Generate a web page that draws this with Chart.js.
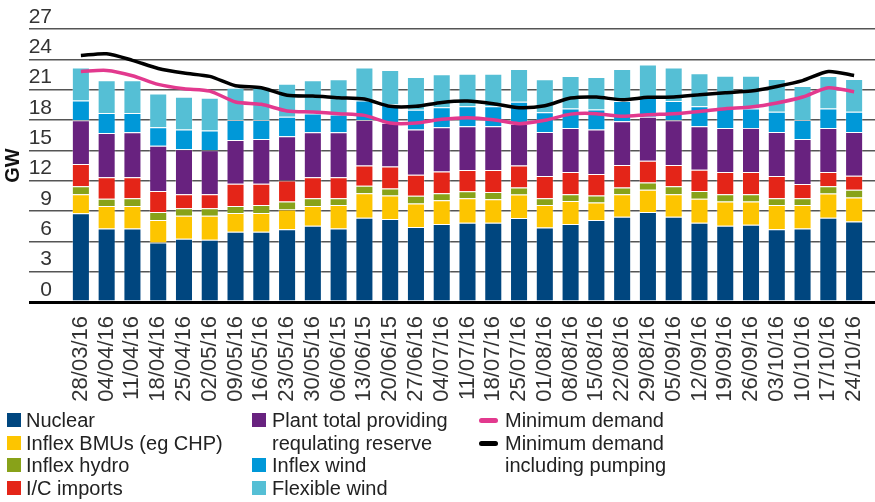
<!DOCTYPE html>
<html>
<head>
<meta charset="utf-8">
<script src="https://cdn.jsdelivr.net/npm/chart.js@4"></script>
<style>
  body { margin: 0; background: #fff; }
  #wrap { position: relative; width: 875px; height: 502px; }
  #legend { position: absolute; left: 0; top: 409px; width: 875px; font-family: "Liberation Sans", Arial, sans-serif; font-size: 20px; color: #222; line-height: 22.7px; }
  .col { position: absolute; top: 0; }
  .row { position: relative; height: 22.7px; white-space: nowrap; }
  .sw { position: absolute; left: 0; top: 4px; width: 14px; height: 14px; }
  .ln { position: absolute; left: 0; top: 9px; width: 19px; height: 5px; border-radius: 3px; }
</style>
</head>
<body>
<div id="wrap">
  <canvas id="myChart" width="875" height="502"></canvas>
  <div id="legend"></div>
</div>
<script>
let canvas = document.getElementById("myChart");

const labels = [
  "28/03/16", "04/04/16", "11/04/16", "18/04/16", "25/04/16", "02/05/16", "09/05/16", "16/05/16",
  "23/05/16", "30/05/16", "06/06/15", "13/06/15", "20/06/15", "27/06/16", "04/07/16", "11/07/16",
  "18/07/16", "25/07/16", "01/08/16", "08/08/16", "15/08/16", "22/08/16", "29/08/16", "05/09/16",
  "12/09/16", "19/09/16", "26/09/16", "03/10/16", "10/10/16", "17/10/16", "24/10/16",
];
const yTicks = [0, 3, 6, 9, 12, 15, 18, 21, 24, 27];

// GW per segment
const nuclear = [8.77, 7.28, 7.28, 5.89, 6.26, 6.16, 6.95, 6.95, 7.19, 7.55, 7.28, 8.34, 8.21, 7.42, 7.72, 7.85,
  7.85, 8.31, 7.38, 7.72, 8.11, 8.44, 8.91, 8.44, 7.85, 7.55, 7.65, 7.19, 7.28, 8.34, 7.95];
const inflexBMU = [1.89, 2.22, 2.22, 2.22, 2.28, 2.38, 1.86, 1.86, 1.95, 1.95, 2.32, 2.42, 2.32, 2.32, 2.35, 2.41,
  2.32, 2.32, 2.22, 2.28, 1.72, 2.22, 2.18, 2.22, 2.35, 2.38, 2.28, 2.41, 2.32, 2.39, 2.38];
const inflexHydro = [0.80, 0.70, 0.76, 0.80, 0.73, 0.73, 0.69, 0.79, 0.79, 0.76, 0.66, 0.73, 0.70, 0.76, 0.69, 0.70,
  0.72, 0.69, 0.66, 0.66, 0.70, 0.66, 0.73, 0.80, 0.79, 0.73, 0.73, 0.66, 0.66, 0.73, 0.76];
const icImports = [2.18, 2.15, 2.09, 2.08, 1.39, 1.39, 2.19, 2.09, 2.09, 2.09, 2.09, 2.02, 2.18, 2.08, 2.15, 2.09,
  2.16, 2.19, 2.19, 2.19, 2.12, 2.22, 2.15, 2.08, 2.09, 2.19, 2.19, 2.19, 1.40, 1.39, 1.39];
const regReserve = [4.34, 4.37, 4.44, 4.47, 4.44, 4.34, 4.34, 4.44, 4.37, 4.44, 4.44, 4.50, 4.31, 4.47, 4.37, 4.33,
  4.33, 4.11, 4.37, 4.37, 4.40, 4.34, 4.34, 4.44, 4.30, 4.37, 4.37, 4.37, 4.47, 4.37, 4.34];
const inflexWind = [1.95, 1.96, 1.89, 1.82, 1.95, 1.95, 1.98, 1.88, 1.92, 1.85, 1.75, 1.92, 1.82, 1.96, 1.99, 1.99,
  1.99, 2.18, 1.95, 1.92, 1.99, 1.99, 1.89, 1.89, 1.99, 1.92, 1.92, 1.99, 1.88, 1.92, 1.99];
const flexWind = [3.25, 3.24, 3.24, 3.35, 3.25, 3.25, 3.18, 3.28, 3.28, 3.28, 3.48, 3.25, 3.41, 3.24, 3.25, 3.21,
  3.21, 3.25, 3.25, 3.21, 3.21, 3.18, 3.30, 3.31, 3.25, 3.24, 3.24, 3.24, 3.35, 3.21, 3.24];
const minDemand = [22.8, 22.9, 22.38, 21.52, 21.09, 20.86, 19.78, 19.55, 18.89, 18.79, 18.63, 18.46, 17.7, 17.7, 18.07, 18.23,
  18.03, 17.64, 17.97, 18.58, 18.63, 18.36, 18.53, 18.63, 18.85, 19.12, 19.28, 19.68, 20.27, 21.19, 20.8];
const minDemandPumping = [24.38, 24.55, 23.9, 23.1, 22.64, 22.31, 21.39, 21.19, 20.45, 20.37, 20.2, 20.07, 19.35, 19.35, 19.74, 19.87,
  19.61, 19.22, 19.41, 20.17, 20.27, 20.0, 20.24, 20.27, 20.5, 20.7, 20.86, 21.32, 21.9, 22.8, 22.41];

const barSeries = [
  { label: "Nuclear", data: nuclear, color: "#00467f" },
  { label: "Inflex BMUs (eg CHP)", data: inflexBMU, color: "#fdc500" },
  { label: "Inflex hydro", data: inflexHydro, color: "#88a219" },
  { label: "I/C imports", data: icImports, color: "#e42518" },
  { label: "Plant total providing requlating reserve", data: regReserve, color: "#68227f" },
  { label: "Inflex wind", data: inflexWind, color: "#0098d8" },
  { label: "Flexible wind", data: flexWind, color: "#55bfd5" },
];
const lineSeries = [
  { label: "Minimum demand", data: minDemand, color: "#e2398e" },
  { label: "Minimum demand including pumping", data: minDemandPumping, color: "#000000" },
];

let datasets = [];
lineSeries.forEach(function (s, i) {
  datasets.push({
    type: "line",
    label: s.label,
    data: s.data,
    borderColor: s.color,
    backgroundColor: s.color,
    borderWidth: 3.5,
    pointRadius: 0,
    tension: 0.25,
    stack: "line" + i,
    order: 0,
  });
});
barSeries.forEach(function (s) {
  datasets.push({
    type: "bar",
    label: s.label,
    data: s.data,
    backgroundColor: s.color,
    borderColor: "rgba(255,255,255,0.25)",
    borderWidth: 1,
    barPercentage: 0.7,
    categoryPercentage: 1,
    order: 1,
  });
});

const gridColor = (c) => (c.tick && c.tick.value === 0 ? "#000" : "#555");
const gridWidth = (c) => (c.tick && c.tick.value === 0 ? 3 : 1.5);

let chart = new Chart(canvas, {
  type: "bar",
  data: { labels: labels, datasets: datasets },
  options: {
    responsive: false,
    animation: false,
    layout: { padding: { top: 29, bottom: 100, left: 0, right: 0 } },
    plugins: { legend: { display: false }, tooltip: { enabled: false } },
    scales: {
      x: {
        stacked: true,
        grid: { display: false },
        border: { display: false },
        ticks: {
          autoSkip: false,
          maxRotation: 90,
          minRotation: 90,
          padding: 6,
          color: "#333",
          font: { family: "Liberation Sans", size: 22 },
        },
        afterFit: (s) => { s.height = 100; s.paddingLeft = 0; s.paddingRight = 0; },
      },
      y: {
        stacked: true,
        min: 0,
        max: 27,
        afterBuildTicks: (s) => { s.ticks = yTicks.map((v) => ({ value: v })); },
        border: { display: false },
        grid: { color: gridColor, lineWidth: gridWidth, tickLength: 39 },
        ticks: {
          padding: -23,
          labelOffset: -12,
          color: "#333",
          font: { family: "Liberation Sans", size: 21 },
        },
        title: {
          display: true,
          text: "GW",
          color: "#111",
          padding: { top: 1, bottom: 0 },
          font: { family: "Liberation Sans", size: 20, weight: "bold" },
        },
        afterFit: (s) => { s.width = 68; s.paddingTop = 0; s.paddingBottom = 0; },
      },
      y2: {
        type: "linear",
        position: "right",
        min: 0,
        max: 27,
        afterBuildTicks: (s) => { s.ticks = yTicks.map((v) => ({ value: v })); },
        border: { display: false },
        grid: { color: gridColor, lineWidth: gridWidth, tickLength: 8, drawOnChartArea: false },
        ticks: { display: false },
        afterFit: (s) => { s.width = 8; s.paddingTop = 0; s.paddingBottom = 0; },
      },
    },
  },
});

// legend in three columns, like the original
const legendCols = [
  { left: 7, pad: 19, rows: [[barSeries[0], "sw"], [barSeries[1], "sw"], [barSeries[2], "sw"], [barSeries[3], "sw"]] },
  { left: 252, pad: 20, rows: [[{ label: "Plant total providing", color: barSeries[4].color }, "sw"], [{ label: "requlating reserve" }, ""],
    [barSeries[5], "sw"], [barSeries[6], "sw"]] },
  { left: 479, pad: 26, rows: [[{ label: "Minimum demand", color: lineSeries[0].color }, "ln"], [{ label: "Minimum demand", color: lineSeries[1].color }, "ln"],
    [{ label: "including pumping" }, ""]] },
];
let legend = document.getElementById("legend");
legendCols.forEach(function (col) {
  let c = document.createElement("div");
  c.className = "col";
  c.style.left = col.left + "px";
  col.rows.forEach(function (r) {
    let row = document.createElement("div");
    row.className = "row";
    row.style.paddingLeft = col.pad + "px";
    if (r[1]) {
      let m = document.createElement("span");
      m.className = r[1];
      m.style.background = r[0].color;
      row.appendChild(m);
    }
    row.appendChild(document.createTextNode(r[0].label));
    c.appendChild(row);
  });
  legend.appendChild(c);
});
</script>
</body>
</html>
